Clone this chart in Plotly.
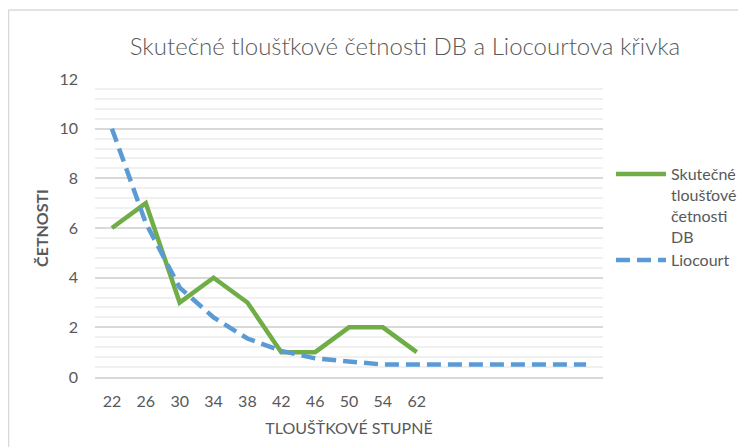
import plotly.graph_objects as go

# ---- data ----
categories = ["22", "26", "30", "34", "38", "42", "46", "50", "54", "62", "", "", "", "", ""]
skutecne = [6, 7, 3, 4, 3, 1, 1, 2, 2, 1]
liocourt = [10, 6.2, 3.6, 2.4, 1.55, 1.05, 0.75, 0.62, 0.5, 0.5, 0.5, 0.5, 0.5, 0.5, 0.5]
y_ticks = [0, 2, 4, 6, 8, 10, 12]

name_skut = "Skutečné<br>tloušťové<br>četnosti<br>DB"
name_lio = "Liocourt"
title_text = "Skutečné tloušťkové četnosti DB a Liocourtova křivka"
x_title = "TLOUŠŤKOVÉ STUPNĚ"
y_title = "ČETNOSTI"

FONT = "Lato"
TXT = "#595959"

idx = list(range(len(categories)))

fig = go.Figure()
fig.add_trace(go.Scatter(
    x=idx[:len(skutecne)], y=skutecne, mode="lines", name=name_skut,
    line=dict(color="#70AD47", width=4.5),
))
fig.add_trace(go.Scatter(
    x=idx[:len(liocourt)], y=liocourt, mode="lines", name=name_lio,
    line=dict(color="#5B9BD5", width=4.5, dash="14px,7px"),
))

OFF = 8  # page body margin
W, H = 738, 439
L, T = 95 - OFF, 79 - OFF
R = W - (603 - OFF)
B = H - (377 - OFF)
pw, ph = W - L - R, H - T - B

def px_x(p):  # p in screen pixels -> paper fraction
    return (p - OFF - L) / pw

def px_y(p):
    return (H - B - (p - OFF)) / ph

fig.update_layout(
    width=W, height=H,
    margin=dict(l=L, r=R, t=T, b=B, pad=0, autoexpand=False),
    paper_bgcolor="white", plot_bgcolor="white",
    font=dict(family=FONT, color=TXT, size=15),
    title=dict(text=title_text, font=dict(family=FONT, size=24, color=TXT, weight=300),
               x=(405 - OFF) / W, xref="container", xanchor="center",
               y=1 - (46.7 - OFF) / H, yref="container", yanchor="middle"),
    showlegend=True,
    legend=dict(x=(611 - OFF) / W, xref="container", y=1 - (157 - OFF) / H, yref="container",
                xanchor="left", yanchor="top",
                font=dict(family=FONT, size=16, color=TXT),
                valign="top", itemwidth=50, tracegroupgap=0,
                bgcolor="rgba(0,0,0,0)"),
    xaxis=dict(
        range=[-0.5, len(categories) - 0.5],
        tickmode="array", tickvals=idx, ticktext=categories,
        showgrid=False, zeroline=False,
        showline=True, linecolor="#d9d9d9", linewidth=1.5,
        ticks="", ticklabelstandoff=9,
        tickfont=dict(family=FONT, size=16, color=TXT),
        title=dict(text=x_title, font=dict(family=FONT, size=16, color=TXT), standoff=14),
        fixedrange=True, automargin=False,
    ),
    yaxis=dict(
        range=[0, 12], tickmode="array", tickvals=y_ticks,
        showgrid=True, gridcolor="#d9d9d9", gridwidth=1.5,
        zeroline=False, showline=False, ticks="",
        ticklabelstandoff=16,
        tickfont=dict(family=FONT, size=16, color=TXT),
        minor=dict(dtick=0.4, showgrid=True, gridcolor="#f0f0f0", gridwidth=1.5, ticks=""),
        title=dict(text="<b>" + y_title + "</b>", font=dict(family=FONT, size=16, color=TXT), standoff=6),
        fixedrange=True, automargin=False,
    ),
    shapes=[
        dict(type="line", xref="paper", yref="paper",
             x0=px_x(8.5), x1=px_x(8.5), y0=px_y(10), y1=px_y(H + 20),
             line=dict(color="#d9d9d9", width=1.5)),
        dict(type="line", xref="paper", yref="paper",
             x0=px_x(8.5), x1=px_x(W + 20), y0=px_y(10), y1=px_y(10),
             line=dict(color="#d9d9d9", width=1.5)),
    ],
)

fig.write_html("out.html")
